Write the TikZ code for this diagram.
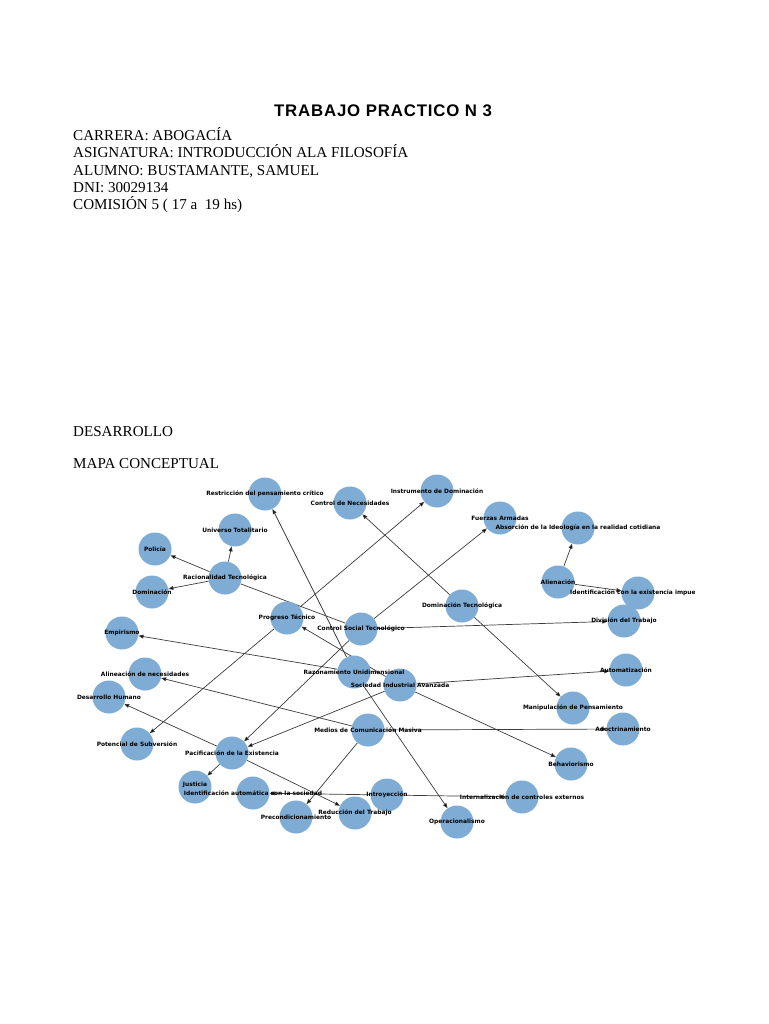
\documentclass[tikz,border=0pt]{standalone}
\usepackage{fontspec}
\setmainfont{Liberation Serif}
\newfontfamily\titlefont[LetterSpace=5]{Liberation Sans}
\newfontfamily\lblfont{DejaVu Sans}
\usetikzlibrary{arrows.meta}
\pgfdeclarelayer{background}
\pgfdeclarelayer{foreground}
\pgfsetlayers{background,main,foreground}
\definecolor{nodeblue}{RGB}{126,172,212}
\definecolor{edgegray}{RGB}{60,60,60}
\begin{document}
\begin{tikzpicture}[x=1pt,y=-1pt,
  concept/.style={circle, fill=nodeblue, draw=none, minimum size=33pt, inner sep=0pt},
  lbl/.style={font=\lblfont\bfseries\fontsize{5.9}{6}\selectfont, inner sep=0pt, text=black},
  edge/.style={draw=edgegray, line width=0.7pt, -{Triangle[length=5pt,width=3.8pt,fill=black]}},
  plainedge/.style={draw=edgegray, line width=0.7pt},
  body/.style={font=\fontsize{15.1}{18}\selectfont, anchor=base west, inner sep=0pt},
]
\useasboundingbox (0,0) rectangle (768,1024);
\begin{pgfonlayer}{background}
\fill[white] (0,0) rectangle (768,1024);
\end{pgfonlayer}

% header
\node[font=\titlefont\bfseries\fontsize{16.8}{20}\selectfont, anchor=base, inner sep=0pt] (title) at (383,116.5) {TRABAJO PRACTICO N 3};
\node[body] (t1) at (73,140.5) {CARRERA: ABOGACÍA};
\node[body] (t2) at (73,158) {ASIGNATURA: INTRODUCCIÓN ALA FILOSOFÍA};
\node[body] (t3) at (73,175.5) {ALUMNO: BUSTAMANTE, SAMUEL};
\node[body] (t4) at (73,193) {DNI: 30029134};
\node[body] (t5) at (73,209.5) {COMISIÓN 5 ( 17 a\ \ 19 hs)};
\node[body] (t6) at (73,436.5) {DESARROLLO};
\node[body] (t7) at (73,468.5) {MAPA CONCEPTUAL};

% concept circles
\node[concept] (restr) at (265,494) {};
\node[concept] (univ) at (235,530) {};
\node[concept] (poli) at (155,549) {};
\node[concept] (racio) at (225,578) {};
\node[concept] (domi) at (152,592) {};
\node[concept] (progr) at (287,618) {};
\node[concept] (cst) at (361,629) {};
\node[concept] (razon) at (354,672) {};
\node[concept] (sia) at (400,685) {};
\node[concept] (cnec) at (350,503) {};
\node[concept] (instr) at (437,491) {};
\node[concept] (fuer) at (500,518) {};
\node[concept] (absor) at (578,528) {};
\node[concept] (alien) at (558,582) {};
\node[concept] (idexist) at (638,593) {};
\node[concept] (domtec) at (462,606) {};
\node[concept] (divis) at (624,621) {};
\node[concept] (autom) at (626,670) {};
\node[concept] (manip) at (573,708) {};
\node[concept] (adoct) at (623,729) {};
\node[concept] (behav) at (571,764) {};
\node[concept] (intern) at (522,797) {};
\node[concept] (operac) at (457,822) {};
\node[concept] (introy) at (387,795) {};
\node[concept] (reduc) at (355,813) {};
\node[concept] (precond) at (296,817) {};
\node[concept] (idauto) at (253,793) {};
\node[concept] (justi) at (195,787) {};
\node[concept] (pacif) at (232,753) {};
\node[concept] (poten) at (137,744) {};
\node[concept] (medios) at (368,730) {};
\node[concept] (desar) at (109,697) {};
\node[concept] (aline) at (145,674) {};
\node[concept] (empir) at (122,633) {};

% connectors
\begin{pgfonlayer}{background}
\draw[edge] (racio) -- (univ);
\draw[edge] (racio) -- (poli);
\draw[edge] (racio) -- (domi);
\draw[plainedge] (racio) -- (cst);
\draw[edge] (razon) -- (restr);
\draw[edge] (razon) -- (empir);
\draw[edge] (razon) -- (operac);
\draw[edge] (progr) -- (instr);
\draw[edge] (progr) -- (poten);
\draw[edge] (cst) -- (fuer);
\draw[edge] (cst) -- (pacif);
\draw[edge] (cst) -- (divis);
\draw[edge] (domtec) -- (cnec);
\draw[edge] (domtec) -- (manip);
\draw[edge] (sia) -- (progr);
\draw[edge] (sia) -- (autom);
\draw[edge] (sia) -- (behav);
\draw[edge] (sia) -- (pacif);
\draw[edge] (medios) -- (aline);
\draw[edge] (medios) -- (precond);
\draw[edge] (medios) -- (adoct);
\draw[edge] (pacif) -- (desar);
\draw[edge] (pacif) -- (justi);
\draw[edge] (pacif) -- (reduc);
\draw[edge] (introy) -- (idauto);
\draw[edge] (introy) -- (intern);
\draw[edge] (alien) -- (absor);
\draw[edge] (alien) -- (idexist);
\end{pgfonlayer}

% labels
\begin{pgfonlayer}{foreground}
\node[lbl] (restr-l) at (restr) {Restricción del pensamiento crítico};
\node[lbl] (univ-l) at (univ) {Universo Totalitario};
\node[lbl] (poli-l) at (poli) {Policía};
\node[lbl] (racio-l) at (racio) {Racionalidad Tecnológica};
\node[lbl] (domi-l) at (domi) {Dominación};
\node[lbl] (progr-l) at (progr) {Progreso Técnico};
\node[lbl] (cst-l) at (cst) {Control Social Tecnológico};
\node[lbl] (razon-l) at (razon) {Razonamiento Unidimensional};
\node[lbl] (sia-l) at (sia) {Sociedad Industrial Avanzada};
\node[lbl] (cnec-l) at (cnec) {Control de Necesidades};
\node[lbl] (instr-l) at (instr) {Instrumento de Dominación};
\node[lbl] (fuer-l) at (fuer) {Fuerzas Armadas};
\node[lbl] (absor-l) at (absor) {Absorción de la Ideología en la realidad cotidiana};
\node[lbl] (alien-l) at (alien) {Alienación};
\begin{scope}
\clip (0,0) rectangle (694,1024);
\node[lbl] (idexist-l) at (idexist) {Identificación con la existencia impuesta};
\end{scope}
\node[lbl] (domtec-l) at (domtec) {Dominación Tecnológica};
\node[lbl] (divis-l) at (divis) {División del Trabajo};
\node[lbl] (autom-l) at (autom) {Automatización};
\node[lbl] (manip-l) at (manip) {Manipulación de Pensamiento};
\node[lbl] (adoct-l) at (adoct) {Adoctrinamiento};
\node[lbl] (behav-l) at (behav) {Behaviorismo};
\node[lbl] (intern-l) at (intern) {Internalización de controles externos};
\node[lbl] (operac-l) at (operac) {Operacionalismo};
\node[lbl] (introy-l) at (introy) {Introyección};
\node[lbl] (reduc-l) at (reduc) {Reducción del Trabajo};
\node[lbl] (precond-l) at (precond) {Precondicionamiento};
\node[lbl] (idauto-l) at ([yshift=-0.5pt]idauto) {Identificación automática con la sociedad};
\node[lbl] (justi-l) at ([yshift=2pt]justi) {Justicia};
\node[lbl] (pacif-l) at (pacif) {Pacificación de la Existencia};
\node[lbl] (poten-l) at (poten) {Potencial de Subversión};
\node[lbl] (medios-l) at (medios) {Medios de Comunicación Masiva};
\node[lbl] (desar-l) at (desar) {Desarrollo Humano};
\node[lbl] (aline-l) at (aline) {Alineación de necesidades};
\node[lbl] (empir-l) at (empir) {Empirismo};
\end{pgfonlayer}
\end{tikzpicture}
\end{document}
